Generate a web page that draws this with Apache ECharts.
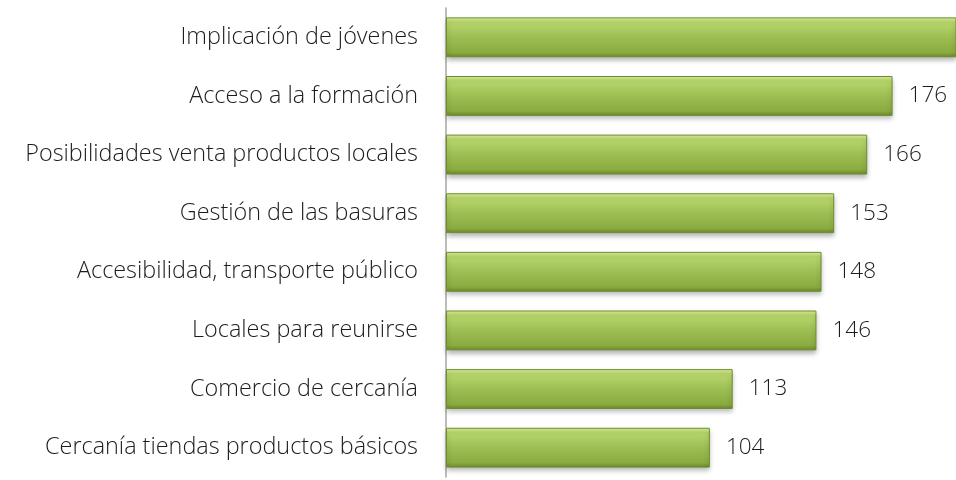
<!DOCTYPE html>
<html lang="es">
<head>
<meta charset="UTF-8">
<title>Prioridades</title>
<script src="https://cdn.jsdelivr.net/npm/echarts@6/dist/echarts.min.js"></script>
<style>
  html, body { margin: 0; padding: 0; background: #fff; }
  #chart { width: 956px; height: 480px; }
</style>
</head>
<body>
<div id="chart"></div>
<script>
// categorias de abajo hacia arriba (eje de categorias en y)
var categorias = [
  'Cercanía tiendas productos básicos',
  'Comercio de cercanía',
  'Locales para reunirse',
  'Accesibilidad, transporte público',
  'Gestión de las basuras',
  'Posibilidades venta productos locales',
  'Acceso a la formación',
  'Implicación de jóvenes'
];
// la barra superior sale del cuadro, valor estimado
var valores = [104, 113, 146, 148, 153, 166, 176, 210];
// el eje se corta aqui: lo que pasa de este valor queda fuera del cuadro
var maxEje = 201;

var datos = valores.map(function (v) {
  return v > maxEje ? { value: v, label: { show: false } } : v;
});

var chart = echarts.init(document.getElementById('chart'));

var option = {
  animation: false,
  grid: {
    left: 446,
    right: 0,
    top: 8,
    bottom: 3
  },
  xAxis: {
    type: 'value',
    min: 0,
    max: maxEje,
    show: false
  },
  yAxis: {
    type: 'category',
    data: categorias,
    axisLine: { show: true, lineStyle: { color: '#a6a6a6', width: 1.5 } },
    axisTick: { show: false },
    axisLabel: {
      color: '#1c1c1c',
      fontFamily: 'Open Sans',
      fontWeight: 300,
      fontSize: 23.4,
      margin: 28
    }
  },
  series: [{
    type: 'bar',
    data: datos,
    clip: true,
    barCategoryGap: '32%',
    itemStyle: {
      color: {
        type: 'linear', x: 0, y: 0, x2: 0, y2: 1,
        colorStops: [
          { offset: 0, color: '#dcf39a' },
          { offset: 0.12, color: '#b9d86e' },
          { offset: 0.5, color: '#9cbe52' },
          { offset: 0.88, color: '#8aab40' },
          { offset: 1, color: '#6a882a' }
        ]
      },
      borderColor: '#6f8d2e',
      borderWidth: 1,
      shadowColor: 'rgba(0,0,0,0.3)',
      shadowBlur: 5,
      shadowOffsetY: 3
    },
    label: {
      show: true,
      position: 'right',
      distance: 16,
      color: '#1c1c1c',
      fontFamily: 'Open Sans',
      fontWeight: 300,
      fontSize: 22.5
    }
  }]
};

chart.setOption(option);
</script>
</body>
</html>
